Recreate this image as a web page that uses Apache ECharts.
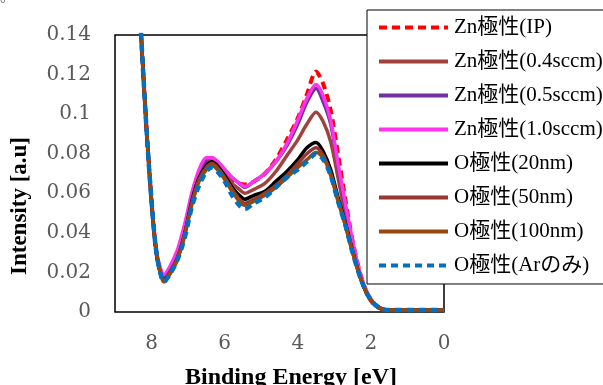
<!DOCTYPE html>
<html>
<head>
<meta charset="utf-8">
<script src="https://cdn.jsdelivr.net/npm/echarts@6/dist/echarts.min.js"></script>
<style>
  html, body { margin: 0; padding: 0; background: #fff; }
  #chart { width: 603px; height: 385px; }
</style>
</head>
<body>
<div id="chart"></div>
<script>
// binding energy (eV)
const energy = [8.5, 8.3, 8.12, 8.0, 7.9, 7.8, 7.66, 7.5, 7.3, 7.1, 6.9, 6.7, 6.5, 6.35, 6.2, 6.0, 5.8, 5.6, 5.45,
  5.2, 4.9, 4.6, 4.3, 4.0, 3.75, 3.5, 3.3, 3.1, 2.9, 2.7, 2.5, 2.3, 2.1, 1.9, 1.7, 1.5, 1.2, 0.8, 0.4, 0.0];

const znIP = [0.22, 0.145, 0.087, 0.056, 0.035, 0.023, 0.017, 0.021, 0.029, 0.042, 0.058, 0.070, 0.076, 0.077, 0.075, 0.071, 0.067, 0.065, 0.0644,
  0.066, 0.070, 0.077, 0.087, 0.098, 0.110, 0.1215, 0.115, 0.102, 0.080, 0.057, 0.036, 0.020, 0.009, 0.0035, 0.0015, 0.001, 0.001, 0.001, 0.001, 0.001];
const zn04 = [0.22, 0.145, 0.087, 0.056, 0.035, 0.023, 0.016, 0.020, 0.028, 0.040, 0.057, 0.069, 0.076, 0.077, 0.075, 0.070, 0.065, 0.062, 0.060,
  0.062, 0.065, 0.071, 0.079, 0.087, 0.095, 0.101, 0.096, 0.086, 0.068, 0.049, 0.032, 0.018, 0.009, 0.0035, 0.0015, 0.001, 0.001, 0.001, 0.001, 0.001];
const zn05 = [0.22, 0.145, 0.087, 0.056, 0.035, 0.023, 0.017, 0.021, 0.029, 0.042, 0.059, 0.071, 0.077, 0.078, 0.076, 0.072, 0.068, 0.065, 0.063,
  0.066, 0.070, 0.076, 0.084, 0.095, 0.106, 0.113, 0.106, 0.095, 0.074, 0.053, 0.034, 0.019, 0.009, 0.004, 0.0015, 0.001, 0.001, 0.001, 0.001, 0.001];
const zn10 = [0.22, 0.146, 0.088, 0.057, 0.036, 0.025, 0.019, 0.023, 0.031, 0.044, 0.060, 0.072, 0.078, 0.078, 0.076, 0.072, 0.068, 0.065, 0.0634,
  0.066, 0.070, 0.076, 0.085, 0.097, 0.108, 0.115, 0.109, 0.097, 0.075, 0.055, 0.036, 0.020, 0.010, 0.004, 0.0018, 0.001, 0.001, 0.001, 0.001, 0.001];
const o20 = [0.22, 0.145, 0.087, 0.056, 0.035, 0.023, 0.016, 0.020, 0.027, 0.039, 0.056, 0.068, 0.074, 0.076, 0.074, 0.069, 0.063, 0.059, 0.057,
  0.059, 0.061, 0.066, 0.071, 0.077, 0.083, 0.0857, 0.081, 0.072, 0.058, 0.045, 0.031, 0.018, 0.009, 0.004, 0.0015, 0.001, 0.001, 0.001, 0.001, 0.001];
const o50 = [0.22, 0.145, 0.087, 0.056, 0.035, 0.023, 0.016, 0.020, 0.027, 0.039, 0.055, 0.067, 0.073, 0.075, 0.073, 0.068, 0.062, 0.057, 0.055,
  0.057, 0.060, 0.064, 0.069, 0.075, 0.080, 0.083, 0.079, 0.070, 0.057, 0.044, 0.030, 0.018, 0.009, 0.004, 0.0015, 0.001, 0.001, 0.001, 0.001, 0.001];
const o100 = [0.22, 0.145, 0.087, 0.056, 0.035, 0.023, 0.0152, 0.019, 0.026, 0.038, 0.054, 0.066, 0.072, 0.074, 0.072, 0.067, 0.061, 0.056, 0.054,
  0.056, 0.059, 0.063, 0.068, 0.073, 0.077, 0.0806, 0.078, 0.069, 0.056, 0.044, 0.030, 0.018, 0.009, 0.004, 0.0015, 0.001, 0.001, 0.001, 0.001, 0.001];
const oAr = [0.22, 0.145, 0.087, 0.056, 0.035, 0.023, 0.0152, 0.019, 0.026, 0.037, 0.053, 0.064, 0.071, 0.073, 0.071, 0.066, 0.059, 0.054, 0.052,
  0.055, 0.058, 0.063, 0.068, 0.072, 0.076, 0.080, 0.077, 0.069, 0.056, 0.044, 0.030, 0.018, 0.009, 0.004, 0.0015, 0.001, 0.001, 0.001, 0.001, 0.001];

const yTicks = [0, 0.02, 0.04, 0.06, 0.08, 0.1, 0.12, 0.14];

const serif = "'Liberation Serif', 'Noto Sans CJK JP', serif";
const tickFont = "'DejaVu Serif', serif";

const seriesDefs = [
  { name: 'Zn極性(IP)', data: znIP, color: '#FF0000', type: [8, 5], width: 4 },
  { name: 'Zn極性(0.4sccm)', data: zn04, color: '#A0433E', type: 'solid', width: 3.5 },
  { name: 'Zn極性(0.5sccm)', data: zn05, color: '#7030A0', type: 'solid', width: 3.5 },
  { name: 'Zn極性(1.0sccm)', data: zn10, color: '#FF33EE', type: 'solid', width: 3.5 },
  { name: 'O極性(20nm)', data: o20, color: '#000000', type: 'solid', width: 3.5 },
  { name: 'O極性(50nm)', data: o50, color: '#953735', type: 'solid', width: 3.5 },
  { name: 'O極性(100nm)', data: o100, color: '#984807', type: 'solid', width: 3.5 },
  { name: 'O極性(Arのみ)', data: oAr, color: '#0070C0', type: [7, 5], width: 4.5 },
];

const chart = echarts.init(document.getElementById('chart'));

chart.setOption({
  animation: false,
  backgroundColor: '#fff',
  grid: {
    left: 115,
    right: 159,
    top: 35,
    bottom: 73,
    show: true,
    borderColor: '#000',
    borderWidth: 1.5,
  },
  legend: {
    orient: 'vertical',
    left: 367,
    top: 10,
    padding: [7, 10, 8, 10],
    itemWidth: 69,
    itemHeight: 14,
    itemGap: 13,
    backgroundColor: '#fff',
    borderColor: '#000',
    borderWidth: 1,
    itemStyle: { opacity: 0 },
    lineStyle: { width: 4 },
    textStyle: { fontFamily: serif, fontSize: 21, color: '#000', padding: [0, 0, 0, 1] },
    data: seriesDefs.map((s) => s.name),
  },
  xAxis: {
    type: 'value',
    inverse: true,
    min: 0,
    max: 9,
    interval: 2,
    axisLine: { show: false },
    axisTick: { show: false },
    splitLine: { show: false },
    axisLabel: {
      showMaxLabel: false,
      margin: 22,
      color: '#595959',
      fontFamily: tickFont,
      fontSize: 20,
    },
  },
  yAxis: {
    type: 'value',
    min: yTicks[0],
    max: yTicks[yTicks.length - 1],
    interval: 0.02,
    axisLine: { show: false },
    axisTick: { show: false },
    splitLine: { show: false },
    axisLabel: {
      margin: 24,
      color: '#595959',
      fontFamily: tickFont,
      fontSize: 20,
      formatter: (v) => String(Math.round(v * 100) / 100),
    },
  },
  graphic: [
    {
      type: 'text',
      x: 20,
      y: 206,
      rotation: Math.PI / 2,
      style: {
        text: 'Intensity [a.u]',
        fontFamily: serif,
        fontWeight: 'bold',
        fontSize: 23,
        fill: '#000',
        align: 'center',
        verticalAlign: 'middle',
      },
    },
    {
      type: 'text',
      x: 291,
      y: 378,
      style: {
        text: 'Binding Energy [eV]',
        fontFamily: serif,
        fontWeight: 'bold',
        fontSize: 24,
        fill: '#000',
        align: 'center',
        verticalAlign: 'middle',
      },
    },
    {
      type: 'text',
      x: 0,
      y: -3,
      style: { text: '°', fontFamily: serif, fontSize: 14, fill: '#555' },
    },
  ],
  series: seriesDefs.map((s) => ({
    name: s.name,
    type: 'line',
    smooth: 0.3,
    symbol: 'none',
    clip: true,
    color: s.color,
    lineStyle: { color: s.color, width: s.width, type: s.type },
    data: energy.map((e, i) => [e, s.data[i]]),
  })),
});
</script>
</body>
</html>
